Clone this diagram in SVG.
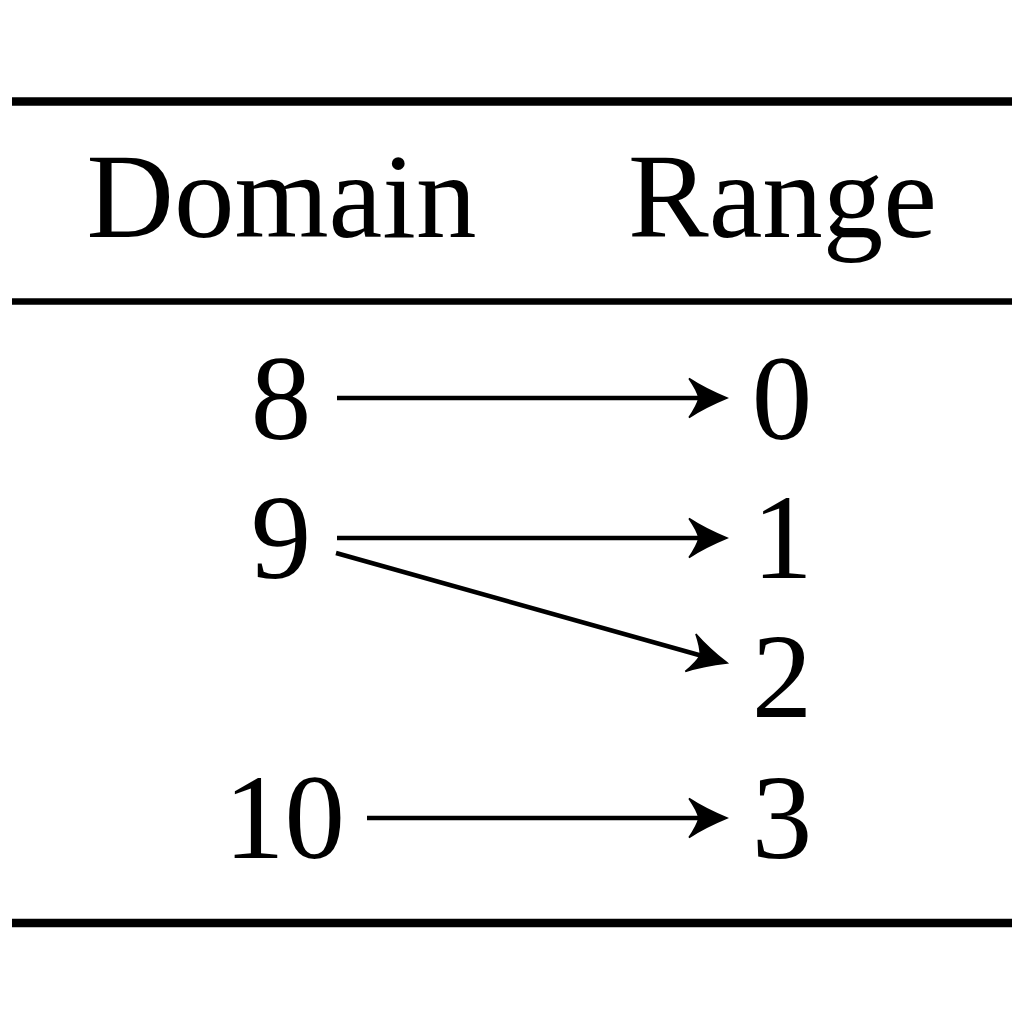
<svg xmlns="http://www.w3.org/2000/svg" width="1024" height="1024" viewBox="0 0 1024 1024">
  <style>
    .lbl { font-family: "Liberation Serif", "Times New Roman", serif; font-size: 121px; fill: #000; text-anchor: middle; }
    .rule { stroke: #000; }
    .edge { stroke: #000; stroke-width: 4.5; fill: none; marker-end: url(#head); }
  </style>
  <defs>
    <!-- stealth-style arrowhead; origin is where the shaft stops, tip sits 22 units ahead -->
    <marker id="head" markerUnits="userSpaceOnUse" viewBox="-24 -24 48 48" markerWidth="48" markerHeight="48" refX="0" refY="0" orient="auto" overflow="visible">
      <path d="M22,0 Q0,-9 -16,-19.5 Q-8,-8 -6,0 Q-8,8 -16,19.5 Q0,9 22,0 Z" fill="#000" stroke="#000" stroke-width="1.5" stroke-linejoin="miter"/>
    </marker>
  </defs>

  <rect width="1024" height="1024" fill="#fff"/>

  <!-- table rules -->
  <g id="rules">
    <line class="rule" x1="12" y1="101.5" x2="1012" y2="101.5" stroke-width="8.5"/>
    <line class="rule" x1="12" y1="301.5" x2="1012" y2="301.5" stroke-width="6.5"/>
    <line class="rule" x1="12" y1="923" x2="1012" y2="923" stroke-width="8.5"/>
  </g>

  <!-- column headers -->
  <g id="header-domain"><text class="lbl" x="281.5" y="237">Domain</text></g>
  <g id="header-range"><text class="lbl" x="782.5" y="237">Range</text></g>

  <!-- domain values -->
  <g id="d8"><text class="lbl" x="281" y="439">8</text></g>
  <g id="d9"><text class="lbl" x="281" y="578">9</text></g>
  <g id="d10"><text class="lbl" x="284.5" y="858">10</text></g>

  <!-- range values -->
  <g id="r0"><text class="lbl" x="782" y="439">0</text></g>
  <g id="r1"><text class="lbl" x="782.5" y="578">1</text></g>
  <g id="r2"><text class="lbl" x="782" y="717">2</text></g>
  <g id="r3"><text class="lbl" x="782" y="858">3</text></g>

  <!-- mapping arrows -->
  <g id="connectors">
    <path class="edge" d="M337,398 L705,398"/>
    <path class="edge" d="M337,538 L705,538"/>
    <path class="edge" d="M336,553 L706,657"/>
    <path class="edge" d="M367,818 L705,818"/>
  </g>
</svg>
